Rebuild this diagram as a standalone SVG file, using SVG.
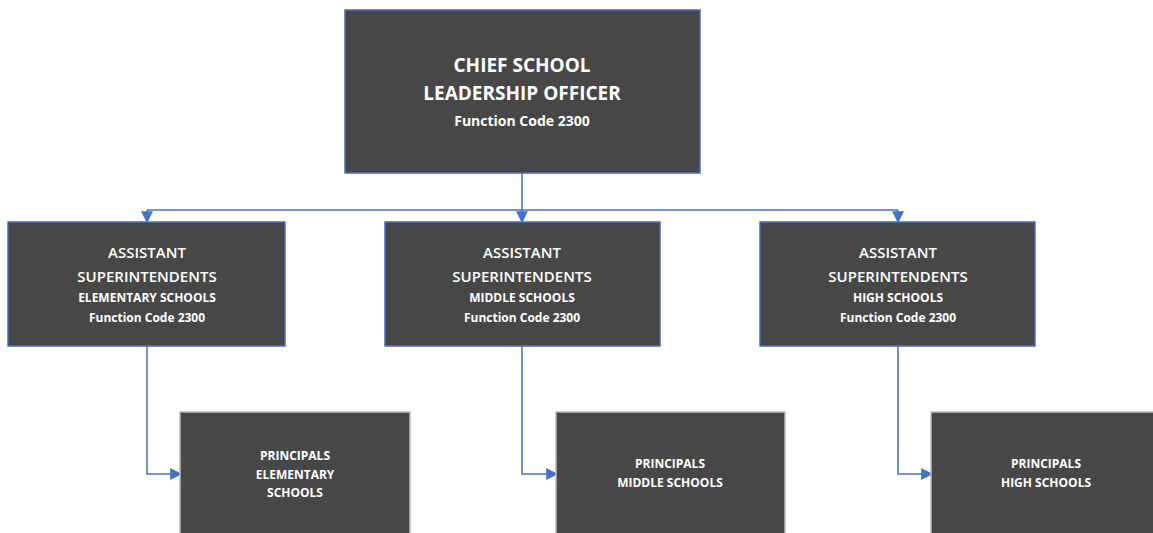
<svg xmlns="http://www.w3.org/2000/svg" width="1153" height="533" viewBox="0 0 1153 533">
<style>
.box{fill:#474747;stroke:#4a6fbf;stroke-width:1.5}
.pbox{fill:#474747;stroke:#bdbdbd;stroke-width:1.5}
.t{font-family:"Open Sans","Liberation Sans",sans-serif;fill:#ffffff;text-anchor:middle}
.big{font-size:19px;font-weight:bold}
.mid{font-size:15px;font-weight:600}
.sm{font-size:12px;font-weight:bold}
.con{fill:none;stroke:#4472c4;stroke-width:1.5}
</style>
<defs>
<marker id="arr" viewBox="0 0 10 10" refX="9" refY="5" markerWidth="12" markerHeight="13" markerUnits="userSpaceOnUse" orient="auto"><path d="M0,0 L10,5 L0,10 z" fill="#4472c4"/></marker>
</defs>
<rect width="1153" height="533" fill="#ffffff"/>
<g id="connectors">
<path class="con" d="M522,173 V210"/>
<path class="con" d="M147,210 H898"/>
<path class="con" d="M147,210 V222" marker-end="url(#arr)"/>
<path class="con" d="M522,210 V222" marker-end="url(#arr)"/>
<path class="con" d="M898,210 V222" marker-end="url(#arr)"/>
<path class="con" d="M147,346 V474 H181" marker-end="url(#arr)"/>
<path class="con" d="M522,346 V474 H557" marker-end="url(#arr)"/>
<path class="con" d="M898,346 V474 H932" marker-end="url(#arr)"/>
</g>
<g id="chief">
<rect class="box" x="345" y="10" width="355" height="163"/>
<text class="t big" x="522" y="72">CHIEF SCHOOL</text>
<text class="t big" x="522" y="100">LEADERSHIP OFFICER</text>
<text class="t sm" x="522" y="126" style="font-size:14px">Function Code 2300</text>
</g>
<g id="asst-elem">
<rect class="box" x="8" y="222" width="277" height="124"/>
<text class="t mid" x="147" y="258">ASSISTANT</text>
<text class="t mid" x="147" y="282">SUPERINTENDENTS</text>
<text class="t sm" x="147" y="302">ELEMENTARY SCHOOLS</text>
<text class="t sm" x="147" y="322">Function Code 2300</text>
</g>
<g id="asst-mid">
<rect class="box" x="385" y="222" width="275" height="124"/>
<text class="t mid" x="522" y="258">ASSISTANT</text>
<text class="t mid" x="522" y="282">SUPERINTENDENTS</text>
<text class="t sm" x="522" y="302">MIDDLE SCHOOLS</text>
<text class="t sm" x="522" y="322">Function Code 2300</text>
</g>
<g id="asst-high">
<rect class="box" x="760" y="222" width="275" height="124"/>
<text class="t mid" x="898" y="258">ASSISTANT</text>
<text class="t mid" x="898" y="282">SUPERINTENDENTS</text>
<text class="t sm" x="898" y="302">HIGH SCHOOLS</text>
<text class="t sm" x="898" y="322">Function Code 2300</text>
</g>
<g id="prin-elem">
<rect class="pbox" x="180" y="412" width="230" height="130"/>
<text class="t sm" x="295" y="460">PRINCIPALS</text>
<text class="t sm" x="295" y="479">ELEMENTARY</text>
<text class="t sm" x="295" y="497">SCHOOLS</text>
</g>
<g id="prin-mid">
<rect class="pbox" x="556" y="412" width="229" height="130"/>
<text class="t sm" x="670" y="468">PRINCIPALS</text>
<text class="t sm" x="670" y="487">MIDDLE SCHOOLS</text>
</g>
<g id="prin-high">
<rect class="pbox" x="931" y="412" width="230" height="130"/>
<text class="t sm" x="1046" y="468">PRINCIPALS</text>
<text class="t sm" x="1046" y="487">HIGH SCHOOLS</text>
</g>
</svg>
